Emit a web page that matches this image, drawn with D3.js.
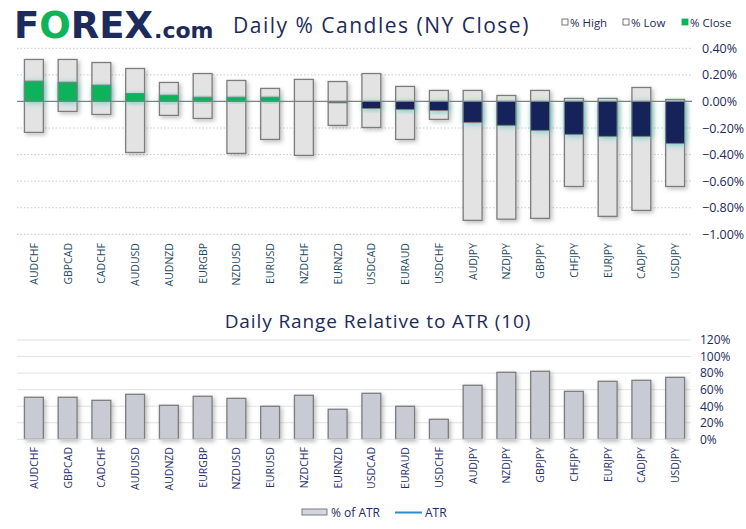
<!DOCTYPE html>
<html><head><meta charset="utf-8">
<script src="https://cdn.jsdelivr.net/npm/d3@7"></script>
<style>
body{margin:0;background:#fff;}
svg{display:block;font-family:"Open Sans",sans-serif;}
</style></head>
<body>
<svg id="c" width="746" height="529"></svg>
<script>
const pairs = ["AUDCHF","GBPCAD","CADCHF","AUDUSD","AUDNZD","EURGBP","NZDUSD","EURUSD","NZDCHF","EURNZD","USDCAD","EURAUD","USDCHF","AUDJPY","NZDJPY","GBPJPY","CHFJPY","EURJPY","CADJPY","USDJPY"];
const highPct  = [0.316,0.316,0.293,0.248,0.143,0.210,0.158,0.098,0.166,0.150,0.210,0.113,0.083,0.083,0.045,0.083,0.023,0.023,0.105,0.015];
const lowPct   = [-0.233,-0.075,-0.098,-0.384,-0.105,-0.128,-0.391,-0.286,-0.406,-0.180,-0.196,-0.286,-0.135,-0.895,-0.886,-0.880,-0.640,-0.865,-0.820,-0.640];
const closePct = [0.153,0.145,0.123,0.060,0.047,0.032,0.032,0.032,0.000,-0.010,-0.053,-0.060,-0.068,-0.158,-0.180,-0.218,-0.248,-0.263,-0.263,-0.316];
const atrPct   = [50.8,50.8,47.1,54.4,41.1,52.0,49.5,39.9,53.2,36.3,55.6,39.9,24.2,65.3,81.0,82.2,58.0,70.1,71.3,74.9];
const atrLine  = 100;
const topTicks = [0.4,0.2,0,-0.2,-0.4,-0.6,-0.8,-1.0];
const botTicks = [0,20,40,60,80,100,120];

const svg = d3.select("#c");
const navy = "#1c2a5c";
const defs = svg.append("defs");
const sh = defs.append("filter").attr("id","sh").attr("x","-40%").attr("y","-20%").attr("width","190%").attr("height","150%");
sh.append("feDropShadow").attr("dx",2).attr("dy",2).attr("stdDeviation",2).attr("flood-color","#000").attr("flood-opacity",0.25);
const gl = defs.append("filter").attr("id","gl").attr("x","-50%").attr("y","-50%").attr("width","200%").attr("height","200%");
gl.append("feDropShadow").attr("dx",1).attr("dy",1).attr("stdDeviation",3).attr("flood-color","#4ec9c0").attr("flood-opacity",0.9);

const x = d3.scaleBand().domain(pairs).range([17,692]).paddingInner(0.44).paddingOuter(0.22);
const yT = d3.scaleLinear().domain([-1,0.4]).range([234.3,48.3]);
const yB = d3.scaleLinear().domain([0,120]).range([439.3,340]);

// Logo
const logo = svg.append("text").attr("x",14).attr("y",38).attr("font-family","'DejaVu Sans',sans-serif").attr("font-weight","bold").attr("fill",navy);
logo.append("tspan").attr("font-size",37).text("F");
logo.append("tspan").attr("font-size",37).attr("fill","#10b25a").text("O");
logo.append("tspan").attr("font-size",37).text("REX");
logo.append("tspan").attr("font-size",22).attr("dx",1).text(".com");
svg.append("text").attr("x",233).attr("y",33).attr("font-size",21).attr("letter-spacing",1.5).attr("fill",navy).text("Daily % Candles (NY Close)");

// top legend
const leg = [["% High","#fff","#555"],["% Low","#fff","#555"],["% Close","#10b25a","#10b25a"]];
const legX = [562,623,682];
leg.forEach((d,i)=>{
  svg.append("rect").attr("x",legX[i]).attr("y",19).attr("width",6).attr("height",6).attr("fill",d[1]).attr("stroke",d[2]).attr("stroke-width",0.8);
  svg.append("text").attr("x",legX[i]+8).attr("y",27).attr("font-size",11.5).attr("fill",navy).text(d[0]);
});

// top grid
svg.append("g").selectAll("line").data(topTicks.filter(t=>t!==0)).join("line")
  .attr("x1",17).attr("x2",692).attr("y1",d=>yT(d)).attr("y2",d=>yT(d))
  .attr("stroke","#c8c8c8").attr("stroke-dasharray","1.5,2");
svg.append("g").attr("transform","translate(702,0)").call(d3.axisRight(yT).tickValues(topTicks).tickSize(0).tickFormat(d=>d3.format(".2f")(d)+"%"))
  .call(g=>g.select(".domain").remove())
  .call(g=>g.selectAll("text").attr("x",0).attr("font-size",12.5).attr("fill",navy).attr("font-family","'Open Sans',sans-serif"));

// candles
const gTop = svg.append("g");
pairs.forEach((p,i)=>{
  gTop.append("rect").attr("x",x(p)).attr("width",x.bandwidth())
    .attr("y",yT(highPct[i])).attr("height",yT(lowPct[i])-yT(highPct[i]))
    .attr("fill","#e3e3e3").attr("stroke","#7d7d7d").attr("stroke-width",1.3).attr("filter","url(#sh)");
});
pairs.forEach((p,i)=>{
  const c = closePct[i];
  if (c===0) return;
  gTop.append("rect").attr("x",x(p)).attr("width",x.bandwidth())
    .attr("y",yT(Math.max(0,c))).attr("height",Math.abs(yT(c)-yT(0)))
    .attr("fill",c>0?"#0db35a":"#13205a").attr("filter","url(#gl)");
  gTop.append("rect").attr("x",x(p)).attr("width",x.bandwidth())
    .attr("y",yT(Math.max(0,c))).attr("height",Math.abs(yT(c)-yT(0)))
    .attr("fill","none").attr("stroke","#7d7d7d").attr("stroke-width",1);
});
svg.append("line").attr("x1",17).attr("x2",692).attr("y1",yT(0)).attr("y2",yT(0)).attr("stroke","#808080").attr("stroke-width",1.2);

// top x labels
svg.append("g").selectAll("text").data(pairs).join("text")
  .attr("transform",d=>`translate(${x(d)+x.bandwidth()/2+4},243) rotate(-90)`)
  .attr("text-anchor","end").attr("font-size",10.5).attr("fill","#1d4a63").text(d=>d);

// bottom chart
svg.append("text").attr("x",378).attr("y",328).attr("text-anchor","middle").attr("font-size",19).attr("letter-spacing",0.9).attr("fill",navy).text("Daily Range Relative to ATR (10)");
svg.append("g").selectAll("line").data(botTicks.slice(1)).join("line")
  .attr("x1",17).attr("x2",691).attr("y1",d=>yB(d)).attr("y2",d=>yB(d)).attr("stroke","#e2e2e2");
svg.append("g").attr("transform","translate(700,0)").call(d3.axisRight(yB).tickValues(botTicks).tickSize(0).tickFormat(d=>d+"%"))
  .call(g=>g.select(".domain").remove())
  .call(g=>g.selectAll("text").attr("x",0).attr("font-size",12).attr("fill",navy).attr("font-family","'Open Sans',sans-serif"));
svg.append("g").selectAll("rect").data(pairs).join("rect")
  .attr("x",d=>x(d)).attr("width",x.bandwidth())
  .attr("y",(d,i)=>yB(atrPct[i])).attr("height",(d,i)=>yB(0)-yB(atrPct[i]))
  .attr("fill","#c8cad4").attr("stroke","#7d7d7d").attr("stroke-width",1.3).attr("filter","url(#sh)");
svg.append("line").attr("x1",17).attr("x2",691).attr("y1",yB(0)).attr("y2",yB(0)).attr("stroke","#e2e2e2");
svg.append("line").attr("x1",x(pairs[0])+x.bandwidth()/2).attr("x2",x(pairs[pairs.length-1])+x.bandwidth()/2)
  .attr("y1",yB(atrLine)).attr("y2",yB(atrLine)).attr("stroke","#2a8fc6").attr("stroke-width",2).attr("filter","url(#sh)");
svg.append("g").selectAll("text").data(pairs).join("text")
  .attr("transform",d=>`translate(${x(d)+x.bandwidth()/2+4},447) rotate(-90)`)
  .attr("text-anchor","end").attr("font-size",10.5).attr("fill","#1f2f6e").text(d=>d);

// bottom legend
svg.append("rect").attr("x",302).attr("y",509).attr("width",25).attr("height",6).attr("fill","#d4d6dd").attr("stroke","#7d7d7d");
svg.append("text").attr("x",331).attr("y",517).attr("font-size",12).attr("fill",navy).text("% of ATR");
svg.append("line").attr("x1",395).attr("x2",422).attr("y1",512.5).attr("y2",512.5).attr("stroke","#2a8fc6").attr("stroke-width",2);
svg.append("text").attr("x",425).attr("y",517).attr("font-size",12).attr("fill",navy).text("ATR");
</script>
</body></html>
